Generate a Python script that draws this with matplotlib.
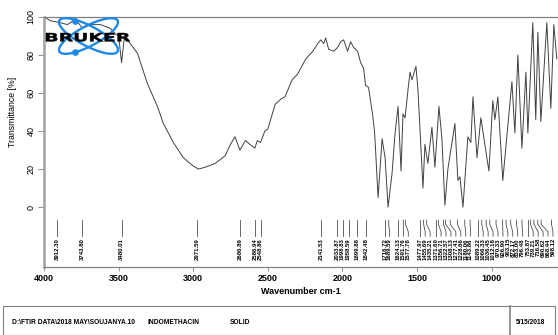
import numpy as np
import matplotlib
matplotlib.use('Agg')
from matplotlib import pyplot as plt
from matplotlib.patches import Ellipse, Rectangle, PathPatch
from matplotlib.textpath import TextPath
from matplotlib.font_manager import FontProperties
from matplotlib.transforms import Affine2D

# Spectrum (wavenumber cm-1, transmittance %)
wavenumber = [3997, 3956, 3890, 3843, 3789, 3742, 3689, 3622, 3555, 3521, 3500, 3480, 3462,
              3441, 3374, 3307, 3240, 3200, 3133, 3066, 3006, 2966, 2919, 2852, 2786, 2750,
              2720, 2687, 2650, 2620, 2587, 2570, 2549, 2520, 2500, 2451, 2410, 2385, 2337,
              2300, 2245, 2198, 2165, 2145, 2125, 2112, 2092, 2058, 2032, 2012, 1992, 1965,
              1945, 1925, 1898, 1878, 1858, 1845, 1825, 1798, 1785, 1781, 1761, 1734, 1714,
              1694, 1667, 1647, 1627, 1607, 1594, 1580, 1560, 1547, 1534, 1507, 1494, 1480,
              1460, 1447, 1427, 1400, 1380, 1353, 1333, 1313, 1293, 1246, 1226, 1212, 1192,
              1159, 1139, 1125, 1098, 1072, 1032, 1018, 992, 978, 958, 925, 864, 844, 824,
              797, 770, 757, 724, 704, 690, 670, 630, 603, 583, 563]
transmittance = [100, 98, 97, 96, 99, 94, 96, 96, 94, 91, 90, 76, 89,
                 88, 81, 65, 53, 44, 34, 26, 22, 20, 21, 23, 27, 33,
                 37, 30, 35, 33, 31, 35, 34, 40, 41, 54, 57, 58, 67,
                 70, 78, 82, 86, 88, 86, 89, 83, 82, 84, 87, 88, 82,
                 87, 84, 82, 76, 73, 64, 63, 49, 40, 35, 5, 36, 26,
                 0, 18, 39, 53, 19, 49, 47, 62, 71, 67, 74, 62, 41,
                 10, 33, 23, 42, 21, 53, 36, 1, 20, 44, 14, 16, 0,
                 37, 34, 58, 26, 47, 26, 19, 56, 46, 58, 14, 66, 39, 80,
                 31, 71, 39, 97, 46, 92, 45, 97, 52, 96, 78]

peaks = [3912.30, 3743.80, 3480.01, 2971.59, 2686.89, 2586.94, 2548.86, 2141.53,
         2033.87, 1998.83, 1958.59, 1899.88, 1842.48, 1716.72, 1689.59, 1624.13,
         1591.76, 1577.78, 1477.97, 1455.69, 1435.21, 1371.60, 1356.71, 1322.57,
         1308.13, 1277.41, 1228.66, 1180.06, 1143.86, 1089.22, 1066.33, 1036.45,
         1012.18, 970.33, 926.90, 903.15, 872.17, 833.00, 796.48, 753.87, 739.21,
         716.58, 690.62, 668.44, 598.12]

fig = plt.figure(figsize=(5.58, 3.35), dpi=100)
ax = fig.add_axes([44 / 558, 1 - 267 / 335, 514 / 558, 250 / 335])
ax.plot(wavenumber, transmittance, color='#404040', lw=0.7)
ax.set_xlim(4000, 555)
ax.set_ylim(-31.5, 100)

ax.set_yticks([0, 20, 40, 60, 80, 100])
ax.set_yticklabels(['0', '20', '40', '60', '80', '100'], rotation=90, va='center',
                   fontsize=6.5, family='Liberation Sans')
ax.set_xticks([4000, 3500, 3000, 2500, 2000, 1500, 1000])
ax.set_xticklabels(['4000', '3500', '3000', '2500', '2000', '1500', '1000'],
                   fontsize=6.5, fontweight='bold', family='Liberation Sans')
ax.tick_params(axis='y', length=4, width=0.6, color='#808080', pad=2)
ax.tick_params(axis='x', length=3, width=0.6, color='#808080', pad=2)
ax.spines['right'].set_visible(False)
ax.spines['left'].set_color('#a0a0a0')
ax.spines['left'].set_linewidth(1.8)
ax.spines['top'].set_color('#808080')
ax.spines['bottom'].set_color('#808080')
ax.spines['top'].set_linewidth(0.9)
ax.spines['bottom'].set_linewidth(0.9)

ax.set_xlabel('Wavenumber cm-1', fontsize=6.5, fontweight='bold', family='Liberation Sans',
              labelpad=3)
ax.text(-0.062, 0.62, 'Transmittance [%]', transform=ax.transAxes, rotation=90,
        ha='center', va='center', fontsize=6.3, family='Liberation Sans')

# peak labels, spread so they do not overlap
gap = 33
pos = list(peaks)
for i in range(1, len(pos)):
    pos[i] = min(pos[i], pos[i - 1] - gap)
pos[-1] = max(pos[-1], 575)
for i in range(len(pos) - 2, -1, -1):
    pos[i] = max(pos[i], pos[i + 1] + gap)
for p, q in zip(peaks, pos):
    ax.plot([p, p, q, q], [-6.8, -9.0, -13.0, -15.3], color='#505050', lw=0.6)
    ax.text(q, -16.3, '%.2f' % p, rotation=90, ha='center', va='top', fontsize=4.3,
            family='Liberation Sans', fontweight='bold')

# Bruker logo, drawn in pixel units
lax = fig.add_axes([40 / 558, 1 - 60 / 335, 95 / 558, 48 / 335])
lax.set_xlim(40, 135)
lax.set_ylim(60, 12)
lax.axis('off')
for ang in (28, -28):
    lax.add_patch(Ellipse((88.5, 36), 66, 20, angle=ang, fill=False, ec='#1e88e5', lw=1.7))
lax.plot([75, 75], [21, 52], 'o', color='#1e88e5', ms=3.8, ls='none')
tp = TextPath((0, 0), 'BRUKER', size=1, prop=FontProperties(family='DejaVu Sans', weight='bold'))
ext = tp.get_extents()
tr = (Affine2D().translate(-ext.x0, -ext.y0)
      .scale(84 / ext.width, -8.5 / ext.height).translate(46, 41.5))
lax.add_patch(PathPatch(tr.transform_path(tp), fc='black', ec='black', lw=0.3))

# footer box
fig.patches.append(Rectangle((3 / 558, 0), 552 / 558, 29 / 335, transform=fig.transFigure,
                             fill=False, ec='#808080', lw=0.8))
fig.lines.append(plt.Line2D([510 / 558, 510 / 558], [0, 29 / 335], transform=fig.transFigure,
                            color='#808080', lw=1.2))
fy = 1 - 322 / 335
foot = dict(fontsize=4.8, fontweight='bold', family='Liberation Sans', va='center')
fig.text(12 / 558, fy, 'D:\\FTIR DATA\\2018 MAY\\SOUJANYA.10', **foot)
fig.text(148 / 558, fy, 'INDOMETHACIN', **foot)
fig.text(230 / 558, fy, 'SOLID', **foot)
fig.text(516 / 558, fy, '5/15/2018', **foot)

plt.savefig('out.png', dpi=100)
